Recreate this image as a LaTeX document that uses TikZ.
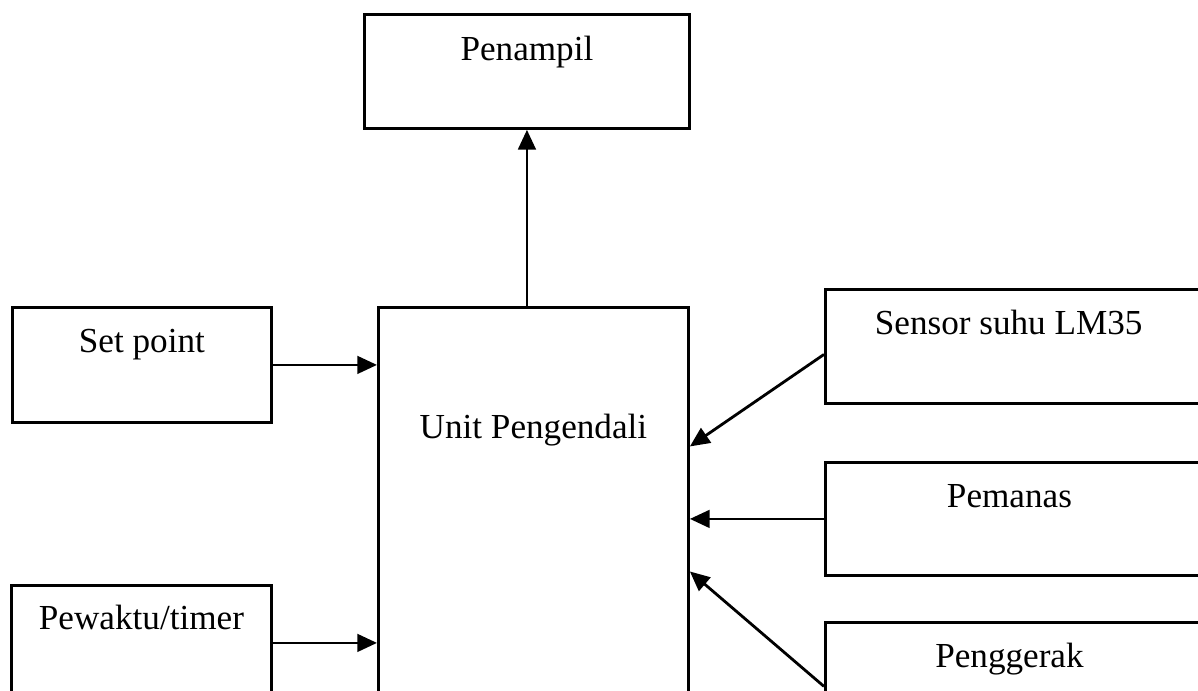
\documentclass[tikz,border=0pt]{standalone}
\usepackage{fontspec}
\setmainfont{Liberation Serif}
\usepackage{tikz}
\usetikzlibrary{arrows.meta}
\usetikzlibrary{positioning}

\begin{document}
\begin{tikzpicture}[x=0.025cm, y=-0.025cm,
    block/.style={draw, line width=2pt, inner sep=0pt, anchor=north west},
    caption/.style={font=\fontsize{25}{30}\selectfont, inner sep=0pt, anchor=base},
    signal/.style={line width=2pt, -{Triangle[length=14pt, width=12.5pt]}}]
    \clip (0,0) rectangle (1198,691);

    % blocks
    \node[block, minimum width=8.125cm, minimum height=2.85cm] (disp) at (363,13) {};
    \node[block, minimum width=7.75cm, minimum height=11.85cm] (ctrl) at (377,306) {};
    \node[block, minimum width=6.475cm, minimum height=2.875cm] (setp) at (11,306) {};
    \node[block, minimum width=6.5cm, minimum height=2.875cm] (timer) at (10,584) {};
    \node[block, minimum width=9.4cm, minimum height=2.85cm] (sensor) at (824,288) {};
    \node[block, minimum width=9.4cm, minimum height=2.825cm] (heater) at (824,461) {};
    \node[block, minimum width=9.4cm, minimum height=2.85cm] (mover) at (824,621) {};

    % texts
    \node[caption] (disp-txt) at ([yshift=-1.18cm]disp.north) {Penampil};
    \node[caption] (ctrl-txt) at ([yshift=-3.3cm]ctrl.north) {Unit Pengendali};
    \node[caption] (setp-txt) at ([yshift=-1.15cm]setp.north) {Set point};
    \node[caption] (timer-txt) at ([yshift=-1.13cm]timer.north) {Pewaktu/timer};
    \node[caption] (sensor-txt) at ([xshift=-0.12cm, yshift=-1.15cm]sensor.north) {Sensor suhu LM35};
    \node[caption] (heater-txt) at ([xshift=-0.1cm, yshift=-1.15cm]heater.north) {Pemanas};
    \node[caption] (mover-txt) at ([xshift=-0.1cm, yshift=-1.17cm]mover.north) {Penggerak};

    % signals
    \draw[signal] (disp.south |- ctrl.north) -- (disp.south);
    \draw[signal] (setp.east) -- (setp.east -| ctrl.west);
    \draw[signal] (timer.east) -- (timer.east -| ctrl.west);
    \draw[signal] ([yshift=-0.2cm]sensor.west) -- ([yshift=2.45cm]ctrl.east);
    \draw[signal] (heater.west) -- (heater.west -| ctrl.east);
    \draw[signal] ([yshift=-0.175cm]mover.west) -- ([yshift=-0.675cm]ctrl.east);
\end{tikzpicture}
\end{document}
